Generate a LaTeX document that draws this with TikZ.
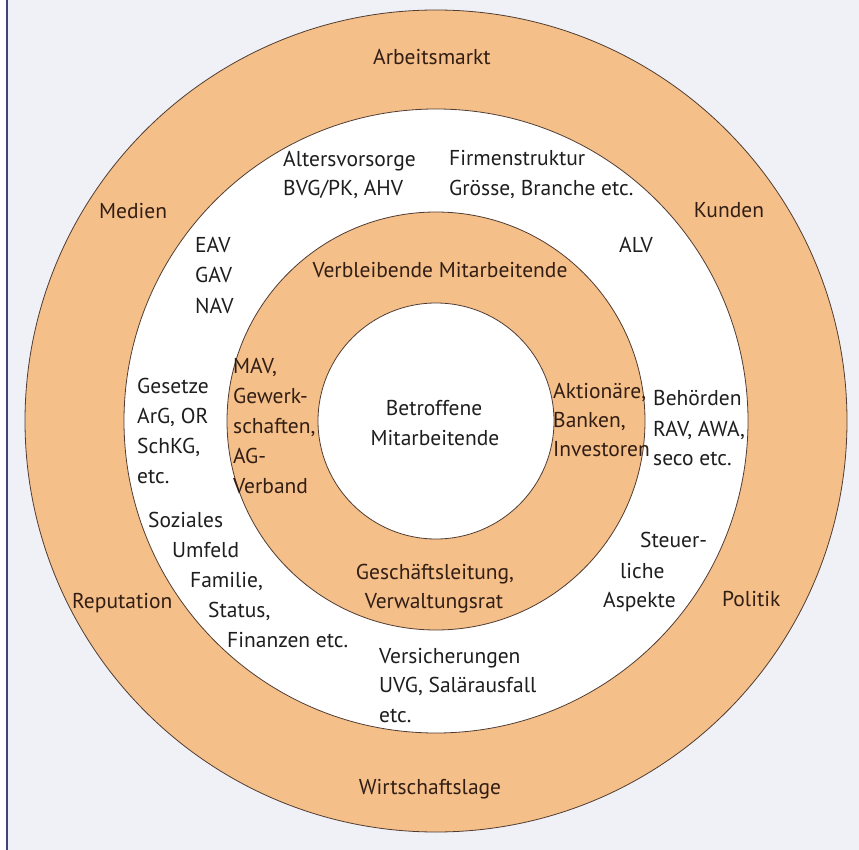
\documentclass[tikz,border=0pt]{standalone}
\usepackage{fontspec}
\setmainfont{PT Sans}
\definecolor{bgc}{RGB}{240,241,247}
\definecolor{framec}{RGB}{60,70,120}
\definecolor{ringorange}{RGB}{244,191,137}
\definecolor{ringline}{RGB}{80,60,50}
\definecolor{txtdark}{RGB}{50,30,20}
\definecolor{txtblack}{RGB}{30,30,30}
\begin{document}
\begin{tikzpicture}[x=1pt,y=-1pt,
  ring/.style={draw=ringline,line width=0.8pt},
  lbl/.style={inner sep=0pt,font=\fontsize{21.5}{29}\selectfont},
  onor/.style={lbl,text=txtdark},
  onwh/.style={lbl,text=txtblack},
  lw/.style={anchor=base west},
  lc/.style={anchor=base}]
\useasboundingbox (0,0) rectangle (859,850);
\fill[bgc] (0,0) rectangle (859,850);
\fill[white] (0,0) rectangle (6,850);
\draw[framec,line width=2pt] (7,0) -- (7,850);
\coordinate (c) at (436,421);
\draw[ring,fill=ringorange] (c) circle[radius=411pt];
\draw[ring,fill=white] (c) circle[radius=312pt];
\draw[ring,fill=ringorange] (c) circle[radius=209pt];
\draw[ring,fill=white] (c) circle[radius=118pt];
% outer ring
\node[onor,lc] (arb) at (432,65) {Arbeitsmarkt};
\node[onor,lw] (med) at (99,219) {Medien};
\node[onor,lc] (kun) at (729,218) {Kunden};
\node[onor,lw] (rep) at (72,608) {Reputation};
\node[onor,lw] (pol) at (722,606) {Politik};
\node[onor,lc] (wirt) at (430,794) {Wirtschaftslage};
% white ring
\node[onwh,lw] (alt1) at (283,167) {Altersvorsorge};
\node[onwh,lw] (alt2) at (283,196) {BVG/PK, AHV};
\node[onwh,lw] (firm1) at (449,166) {Firmenstruktur};
\node[onwh,lw] (firm2) at (449,196) {Grösse, Branche etc.};
\node[onwh,lw] (eav) at (195,253) {EAV};
\node[onwh,lw] (gav) at (195,283) {GAV};
\node[onwh,lw] (nav) at (195,313) {NAV};
\node[onwh,lw] (alv) at (619,253) {ALV};
\node[onwh,lw] (ges1) at (137,393) {Gesetze};
\node[onwh,lw] (ges2) at (137,423) {ArG, OR};
\node[onwh,lw] (ges3) at (137,453) {SchKG,};
\node[onwh,lw] (ges4) at (137,483) {etc.};
\node[onwh,lw] (soz1) at (148,527) {Soziales};
\node[onwh,lw] (soz2) at (172,557) {Umfeld};
\node[onwh,lw] (soz3) at (190,587) {Familie,};
\node[onwh,lw] (soz4) at (208,617) {Status,};
\node[onwh,lw] (soz5) at (227,647) {Finanzen etc.};
\node[onwh,lw] (vers1) at (379,663) {Versicherungen};
\node[onwh,lw] (vers2) at (379,692) {UVG, Salärausfall};
\node[onwh,lw] (vers3) at (379,722) {etc.};
\node[onwh,lw] (st1) at (640,547) {Steuer-};
\node[onwh,lw] (st2) at (620,578) {liche};
\node[onwh,lw] (st3) at (603,607) {Aspekte};
\node[onwh,lw] (beh1) at (653,405) {Behörden};
\node[onwh,lw] (beh2) at (653,436) {RAV, AWA,};
\node[onwh,lw] (beh3) at (653,465) {seco etc.};
% inner orange ring
\node[onor,lc] (verb) at (440,278) {Verbleibende Mitarbeitende};
\node[onor,lw] (mav1) at (233,373) {MAV,};
\node[onor,lw] (mav2) at (233,403) {Gewerk-};
\node[onor,lw] (mav3) at (233,433) {schaften,};
\node[onor,lw] (mav4) at (233,463) {AG-};
\node[onor,lw] (mav5) at (233,493) {Verband};
\node[onor,lw] (akt1) at (553,398) {Aktionäre,};
\node[onor,lw] (akt2) at (553,427) {Banken,};
\node[onor,lw] (akt3) at (553,456) {Investoren};
\node[onor,lc] (gl1) at (435,579) {Geschäftsleitung,};
\node[onor,lc] (gl2) at (434,608) {Verwaltungsrat};
% centre
\node[onwh,lc] (betr1) at (434,415) {Betroffene};
\node[onwh,lc] (betr2) at (435,445) {Mitarbeitende};
\end{tikzpicture}
\end{document}
